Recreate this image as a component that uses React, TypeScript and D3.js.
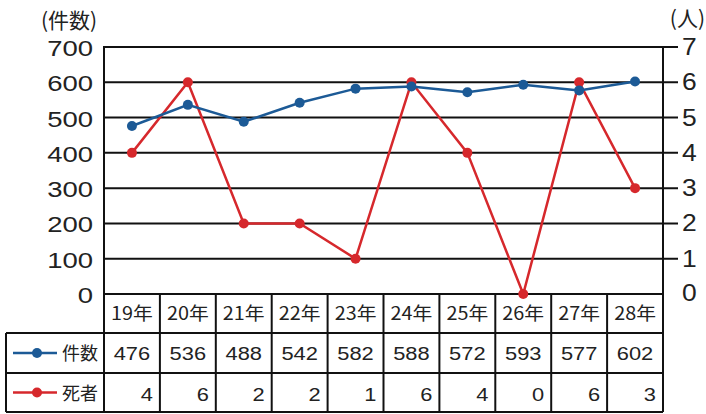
import React from "react";
import * as d3 from "d3";

const years = ["19年", "20年", "21年", "22年", "23年", "24年", "25年", "26年", "27年", "28年"];
const cases = [476, 536, 488, 542, 582, 588, 572, 593, 577, 602];
const deaths = [4, 6, 2, 2, 1, 6, 4, 0, 6, 3];
const leftTicks = [0, 100, 200, 300, 400, 500, 600, 700];
const rightTicks = [0, 1, 2, 3, 4, 5, 6, 7];
const seriesNames = ["件数", "死者"];

const BLUE = "#1c5a96";
const RED = "#d6282c";
const NUM_FONT = "'Liberation Sans', Arial, sans-serif";
const JP_FONT = "'Noto Sans CJK JP', sans-serif";

function SText(props: { x: number; y: number; sx?: number; anchor?: string; size: number; font: string; children: any }) {
  const { x, y, sx = 1.2, anchor = "start", size, font, children } = props;
  return (
    <text transform={`translate(${x},${y}) scale(${sx},1)`} textAnchor={anchor as any} fontFamily={font} fontSize={size} fill="#222">
      {children}
    </text>
  );
}

export default function App() {
  const W = 706, H = 414;
  const left = 104, right = 663, top = 47, bottom = 294;
  const rowY = [294, 333, 373, 412];
  const tableLeft = 6;

  const x = d3.scaleBand<string>().domain(years).range([left, right]).padding(0);
  const yL = d3.scaleLinear().domain([0, 700]).range([bottom, top]);
  const yR = d3.scaleLinear().domain([0, 7]).range([bottom, top]);
  const cx = (i: number) => (x(years[i]) as number) + x.bandwidth() / 2;

  const lineL = d3.line<number>().x((_, i) => cx(i)).y((d) => yL(d));
  const lineR = d3.line<number>().x((_, i) => cx(i)).y((d) => yR(d));

  return (
    <svg width={W} height={H} style={{ position: "absolute", left: 0, top: 0, background: "#fff" }}>
      {/* axis titles */}
      <text x={41} y={28} fontFamily={JP_FONT} fontSize={21} fill="#222">(件数)</text>
      <text x={705} y={26} textAnchor="end" fontFamily={JP_FONT} fontSize={21} fill="#222">(人)</text>

      {/* gridlines */}
      {leftTicks.filter((t) => t > 0).map((t) => (
        <line key={"g" + t} x1={left - 1} x2={right + 15} y1={yL(t)} y2={yL(t)} stroke="#111" strokeWidth={2} />
      ))}
      {/* left & right axis lines */}
      <line x1={left} x2={left} y1={top - 1} y2={bottom} stroke="#111" strokeWidth={2} />
      <line x1={right} x2={right} y1={top - 1} y2={rowY[3]} stroke="#111" strokeWidth={2} />

      {/* left labels */}
      {leftTicks.map((t) => (
        <SText key={"l" + t} x={93} y={yL(t) + 9} anchor="end" size={22} sx={1.25} font={NUM_FONT}>{t}</SText>
      ))}
      {/* right labels */}
      {rightTicks.map((t) => (
        <SText key={"r" + t} x={682} y={yR(t) + (t === 0 ? 7 : 8)} size={23} sx={1.15} font={NUM_FONT}>{t}</SText>
      ))}

      {/* table */}
      <g stroke="#111" strokeWidth={2}>
        <line x1={left} x2={right} y1={rowY[0]} y2={rowY[0]} />
        <line x1={tableLeft} x2={right} y1={rowY[1]} y2={rowY[1]} />
        <line x1={tableLeft} x2={right} y1={rowY[2]} y2={rowY[2]} />
        <line x1={tableLeft} x2={right} y1={rowY[3]} y2={rowY[3]} />
        <line x1={tableLeft} x2={tableLeft} y1={rowY[1]} y2={rowY[3]} />
        <line x1={left} x2={left} y1={rowY[0]} y2={rowY[3]} />
        {years.map((yr) => (
          <line key={"v" + yr} x1={(x(yr) as number) + x.bandwidth()} x2={(x(yr) as number) + x.bandwidth()} y1={rowY[0]} y2={rowY[3]} />
        ))}
      </g>
      {years.map((yr, i) => (
        <g key={"t" + yr}>
          <SText x={cx(i)} y={rowY[0] + 26} anchor="middle" size={18} sx={1.1} font={JP_FONT}>{yr}</SText>
          <SText x={cx(i)} y={rowY[1] + 27} anchor="middle" size={19} sx={1.15} font={NUM_FONT}>{cases[i]}</SText>
          <SText x={(x(yr) as number) + x.bandwidth() - 7} y={rowY[2] + 28} anchor="end" size={19} sx={1.15} font={NUM_FONT}>{deaths[i]}</SText>
        </g>
      ))}
      {/* legend in table */}
      {[BLUE, RED].map((c, k) => {
        const yy = (rowY[k + 1] + rowY[k + 2]) / 2;
        return (
          <g key={"lg" + k}>
            <line x1={13} x2={57} y1={yy} y2={yy} stroke={c} strokeWidth={2.5} />
            <circle cx={37} cy={yy} r={5} fill={c} />
            <text x={62} y={yy + 7} fontFamily={JP_FONT} fontSize={18} fill="#222">{seriesNames[k]}</text>
          </g>
        );
      })}

      {/* series */}
      <path d={lineR(deaths) as string} fill="none" stroke={RED} strokeWidth={2.5} />
      {deaths.map((d, i) => (
        <circle key={"rd" + i} cx={cx(i)} cy={yR(d)} r={5} fill={RED} />
      ))}
      <path d={lineL(cases) as string} fill="none" stroke={BLUE} strokeWidth={2.5} />
      {cases.map((d, i) => (
        <circle key={"bd" + i} cx={cx(i)} cy={yL(d)} r={5} fill={BLUE} />
      ))}
    </svg>
  );
}
